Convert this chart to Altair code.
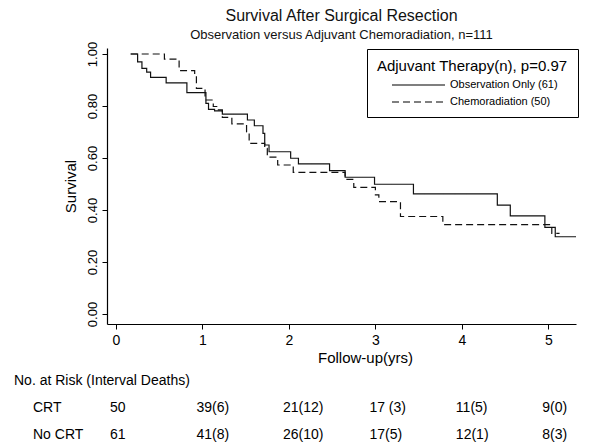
import altair as alt
import pandas as pd

# Kaplan-Meier step points (time in years, survival)
obs_t = [0.17, 0.25, 0.30, 0.355, 0.40, 0.58, 0.82, 1.04, 1.07, 1.14, 1.23, 1.52, 1.60, 1.70, 1.72, 1.77,
         2.02, 2.11, 2.47, 2.65, 2.99, 3.44, 4.41, 4.56, 4.96, 5.08, 5.32]
obs_s = [1.000, 0.970, 0.945, 0.930, 0.910, 0.889, 0.851, 0.810, 0.787, 0.781, 0.769, 0.746, 0.724, 0.695, 0.650, 0.624,
         0.599, 0.577, 0.551, 0.526, 0.499, 0.462, 0.419, 0.377, 0.333, 0.297, 0.297]

crt_t = [0.17, 0.56, 0.73, 0.91, 0.93, 1.03, 1.125, 1.165, 1.23, 1.34, 1.51, 1.54, 1.72, 1.75, 1.87, 2.05,
         2.65, 2.75, 3.00, 3.04, 3.29, 3.78, 5.04, 5.13]
crt_s = [1.000, 0.980, 0.936, 0.920, 0.868, 0.823, 0.798, 0.785, 0.756, 0.731, 0.700, 0.656, 0.637, 0.603, 0.573, 0.545,
         0.518, 0.487, 0.458, 0.432, 0.375, 0.344, 0.310, 0.310]

groups = ["Observation Only (61)", "Chemoradiation (50)"]

risk_times = [0, 1, 2, 3, 4, 5]
crt_risk = ["50", "39(6)", "21(12)", "17 (3)", "11(5)", "9(0)"]
nocrt_risk = ["61", "41(8)", "26(10)", "17(5)", "12(1)", "8(3)"]
row_names = ["CRT", "No CRT"]
table_header = "No. at Risk (Interval Deaths)"

FONT = "Liberation Sans"
W, H = 469, 276

km = pd.concat([
    pd.DataFrame({"t": obs_t, "s": obs_s, "group": groups[0]}),
    pd.DataFrame({"t": crt_t, "s": crt_s, "group": groups[1]}),
])

xscale = alt.Scale(domain=[-0.104, 5.32], nice=False, zero=False)
yscale = alt.Scale(domain=[-0.0385, 1.023], nice=False, zero=False)

lines = alt.Chart(km).mark_line(interpolate="step-after", color="#111111", strokeWidth=1.2).encode(
    x=alt.X("t:Q", scale=xscale,
            axis=alt.Axis(values=risk_times, format="d", title="Follow-up(yrs)", titleX=258)),
    y=alt.Y("s:Q", scale=yscale,
            axis=alt.Axis(values=[0, 0.2, 0.4, 0.6, 0.8, 1.0], format=".2f", title="Survival",
                          labelAngle=270, labelAlign="center", labelBaseline="bottom")),
    strokeDash=alt.StrokeDash("group:N",
                              scale=alt.Scale(domain=groups, range=[[1, 0], [7, 4]]),
                              legend=alt.Legend(
                                  title="Adjuvant Therapy(n), p=0.97",
                                  orient="none", legendX=260, legendY=1,
                                  strokeColor="black", fillColor="white", padding=10,
                                  titleFontSize=15, titleFont=FONT, titleFontWeight="normal",
                                  titleColor="black", titleAnchor="middle", titlePadding=5,
                                  titleLimit=400, labelLimit=300,
                                  labelFontSize=11, labelFont=FONT, labelColor="black",
                                  symbolType="M0,0H10.6", symbolSize=100, symbolStrokeWidth=1.2,
                                  symbolStrokeColor="black", labelOffset=52, rowPadding=6)),
    order="t:Q",
)

risk_df = pd.concat([
    pd.DataFrame({"t": risk_times, "label": crt_risk, "row": row_names[0]}),
    pd.DataFrame({"t": risk_times, "label": nocrt_risk, "row": row_names[1]}),
])

risk_crt = alt.Chart(risk_df[risk_df["row"] == row_names[0]]).mark_text(
    align="left", baseline="middle", fontSize=14, font=FONT, color="black", dx=-6
).encode(x=alt.X("t:Q", scale=xscale), y=alt.value(360), text="label:N")

risk_nocrt = alt.Chart(risk_df[risk_df["row"] == row_names[1]]).mark_text(
    align="left", baseline="middle", fontSize=14, font=FONT, color="black", dx=-6
).encode(x=alt.X("t:Q", scale=xscale), y=alt.value(387), text="label:N")

rows_df = pd.DataFrame({"row": row_names, "ypix": [360, 387]})
row_labels = alt.Chart(rows_df).mark_text(
    align="left", baseline="middle", fontSize=14, font=FONT, color="black"
).encode(x=alt.value(-74), y=alt.Y("ypix:Q", scale=None), text="row:N")

header = alt.Chart(pd.DataFrame({"h": [table_header]})).mark_text(
    align="left", baseline="middle", fontSize=14, font=FONT, color="black"
).encode(x=alt.value(-93), y=alt.value(333), text="h:N")

chart = alt.layer(lines, risk_crt, risk_nocrt, row_labels, header).properties(
    width=W, height=H,
    autosize=alt.AutoSizeParams(type="none"),
    padding={"left": 99, "top": 40, "right": 16, "bottom": 119},
    title=alt.TitleParams(
        text="Survival After Surgical Resection",
        subtitle="Observation versus Adjuvant Chemoradiation, n=111",
        fontSize=16, subtitleFontSize=13, font=FONT, subtitleFont=FONT,
        fontWeight="normal", color="#111111", subtitleColor="#111111",
        anchor="middle", offset=-1, subtitlePadding=5,
    ),
).configure_view(stroke=None).configure_axis(
    labelFont=FONT, titleFont=FONT, labelColor="black", titleColor="black",
    domainColor="black", tickColor="black", grid=False, tickSize=5,
    titleFontWeight="normal", domainWidth=1.2, tickWidth=1,
).configure_axisX(
    labelFontSize=14, titleFontSize=15, labelPadding=4, titlePadding=3,
).configure_axisY(
    labelFontSize=13, titleFontSize=15, labelPadding=3, titlePadding=8,
)

chart.save("out.html", embed_options={"renderer": "svg", "actions": False})
